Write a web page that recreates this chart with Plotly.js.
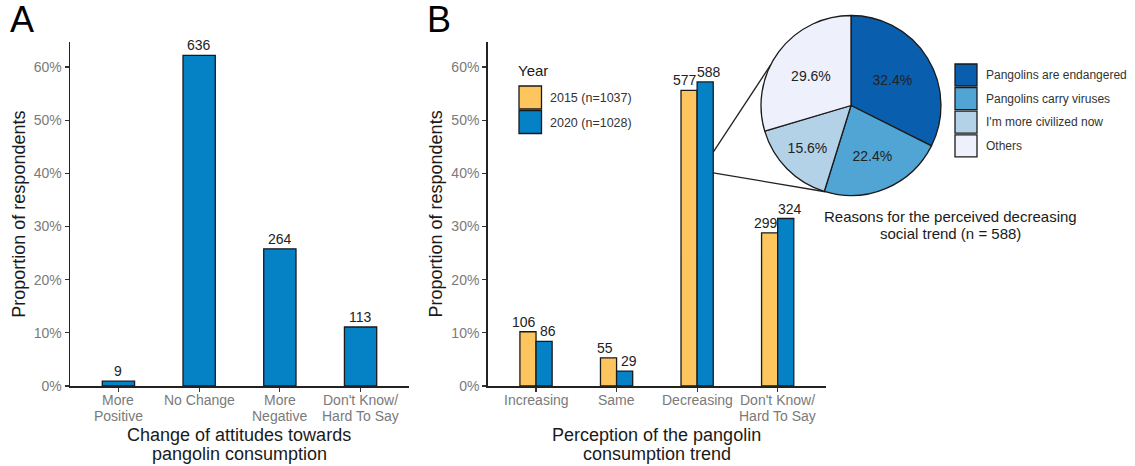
<!DOCTYPE html>
<html><head><meta charset="utf-8">
<script src="https://cdn.plot.ly/plotly-3.0.1.min.js"></script>
<style>html,body{margin:0;padding:0;background:#fff}#chart{width:1135px;height:466px}</style>
</head><body><div id="chart"></div>
<script>
// ---- data ----
const attitudeCategories = ['More<br>Positive', 'No Change', 'More<br>Negative', "Don't Know/<br>Hard To Say"];
const attitudeCounts = [9, 636, 264, 113];
const attitudePct = [0.9, 62.2, 25.8, 11.1];

const trendCategories = ['Increasing', 'Same', 'Decreasing', "Don't Know/<br>Hard To Say"];
const trend2015Counts = [106, 55, 577, 299];
const trend2015Pct = [10.2, 5.3, 55.6, 28.8];
const trend2020Counts = [86, 29, 588, 324];
const trend2020Pct = [8.4, 2.8, 57.2, 31.5];
const yearLabels = ['2015 (n=1037)', '2020 (n=1028)'];

const reasonLabels = ['Pangolins are endangered', 'Pangolins carry viruses', "I'm more civilized now", 'Others'];
const reasonPct = [32.4, 22.4, 15.6, 29.6];

const yTickVals = [0, 10, 20, 30, 40, 50, 60];
const yTickText = ['0%', '10%', '20%', '30%', '40%', '50%', '60%'];

// ---- styles ----
const W = 1135, H = 466;
const FONT = 'Liberation Sans, Arial, sans-serif';
const yearColors = ['#FCC55D', '#0581C6'];
const reasonColors = ['#0A5EAE', '#50A5D5', '#B3D2E7', '#EEF0FC'];
const outline = '#1a1a1a';
const tickGray = '#7a7a7a';
const titleCol = '#1a1a1a';

const px = v => v / W;          // pixel -> paper x
const py = v => 1 - v / H;      // pixel -> paper y

const yDom = [py(386), py(42)];
const xDomA = [px(70), px(409)];
const xDomB = [px(487.7), px(826)];
const xRange = [-0.6, 3.6];
const yRange = [0, 64.7];

const traces = [
  {type: 'bar', x: attitudeCategories, y: attitudePct, xaxis: 'x', yaxis: 'y',
   marker: {color: yearColors[1], line: {color: outline, width: 1.3}}, hoverinfo: 'none'},
  {type: 'bar', x: trendCategories, y: trend2015Pct, xaxis: 'x2', yaxis: 'y2', name: yearLabels[0],
   marker: {color: yearColors[0], line: {color: outline, width: 1.3}}, hoverinfo: 'none'},
  {type: 'bar', x: trendCategories, y: trend2020Pct, xaxis: 'x2', yaxis: 'y2', name: yearLabels[1],
   marker: {color: yearColors[1], line: {color: outline, width: 1.3}}, hoverinfo: 'none'},
  {type: 'pie', values: reasonPct, labels: reasonLabels, sort: false, direction: 'clockwise', rotation: 0,
   text: reasonPct.map(v => v.toFixed(1) + '%'), textinfo: 'text', textposition: 'inside',
   insidetextorientation: 'horizontal',
   textfont: {family: FONT, size: 14, color: '#222'},
   marker: {colors: reasonColors, line: {color: outline, width: 1.3}},
   domain: {x: [px(761), px(941)], y: [py(195.5), py(15.5)]}, hoverinfo: 'none'}
];

const axisCommon = {
  showline: true, linecolor: '#222', linewidth: 1.5, ticks: 'outside', ticklen: 4,
  tickwidth: 1.2, tickcolor: '#333', showgrid: false, zeroline: false,
  tickfont: {family: FONT, size: 14, color: tickGray}, fixedrange: true
};

const annotations = [];
const shapes = [];

// x tick labels (one annotation per text line, for ggplot-like tight line spacing)
function addTickLabels(cats, xref) {
  cats.forEach(c => {
    c.split('<br>').forEach((line, k) => annotations.push({
      xref: xref, yref: 'paper', x: c, y: py(400 + 16 * k), text: line, showarrow: false,
      xanchor: 'center', yanchor: 'middle', font: {family: FONT, size: 14, color: tickGray}
    }));
  });
}
addTickLabels(attitudeCategories, 'x');
addTickLabels(trendCategories, 'x2');

// bar labels A
attitudeCategories.forEach((c, i) => annotations.push({
  xref: 'x', yref: 'y', x: c, y: attitudePct[i], text: String(attitudeCounts[i]),
  showarrow: false, yanchor: 'bottom', font: {family: FONT, size: 14, color: '#222'}
}));
// bar labels B
trendCategories.forEach((c, i) => {
  annotations.push({xref: 'x2', yref: 'y2', x: c, y: trend2015Pct[i], text: String(trend2015Counts[i]),
    xshift: -12, showarrow: false, yanchor: 'bottom', font: {family: FONT, size: 14, color: '#222'}});
  annotations.push({xref: 'x2', yref: 'y2', x: c, y: trend2020Pct[i], text: String(trend2020Counts[i]),
    xshift: 12, showarrow: false, yanchor: 'bottom', font: {family: FONT, size: 14, color: '#222'}});
});

// axis titles
const titleFont = {family: FONT, size: 18, color: titleCol};
annotations.push(
  {xref: 'paper', yref: 'paper', x: px(18.7), y: (yDom[0] + yDom[1]) / 2, text: 'Proportion of respondents',
   textangle: -90, showarrow: false, xanchor: 'center', yanchor: 'middle', font: titleFont},
  {xref: 'paper', yref: 'paper', x: px(435.5), y: (yDom[0] + yDom[1]) / 2, text: 'Proportion of respondents',
   textangle: -90, showarrow: false, xanchor: 'center', yanchor: 'middle', font: titleFont},
  {xref: 'paper', yref: 'paper', x: (xDomA[0] + xDomA[1]) / 2, y: py(435), text: 'Change of attitudes towards',
   showarrow: false, xanchor: 'center', yanchor: 'middle', font: titleFont},
  {xref: 'paper', yref: 'paper', x: (xDomA[0] + xDomA[1]) / 2, y: py(454), text: 'pangolin consumption',
   showarrow: false, xanchor: 'center', yanchor: 'middle', font: titleFont},
  {xref: 'paper', yref: 'paper', x: (xDomB[0] + xDomB[1]) / 2, y: py(435), text: 'Perception of the pangolin',
   showarrow: false, xanchor: 'center', yanchor: 'middle', font: titleFont},
  {xref: 'paper', yref: 'paper', x: (xDomB[0] + xDomB[1]) / 2, y: py(454), text: 'consumption trend',
   showarrow: false, xanchor: 'center', yanchor: 'middle', font: titleFont}
);

// panel letters
annotations.push(
  {xref: 'paper', yref: 'paper', x: px(8), y: py(42), text: 'A', showarrow: false, xanchor: 'left', yanchor: 'bottom',
   font: {family: FONT, size: 36, color: '#000'}},
  {xref: 'paper', yref: 'paper', x: px(425), y: py(42), text: 'B', showarrow: false, xanchor: 'left', yanchor: 'bottom',
   font: {family: FONT, size: 36, color: '#000'}}
);

// Year legend
annotations.push({xref: 'paper', yref: 'paper', x: px(516), y: py(70.5), text: 'Year', showarrow: false,
  xanchor: 'left', yanchor: 'middle', font: {family: FONT, size: 15, color: titleCol}});
yearLabels.forEach((lab, i) => {
  const top = 86 + i * 24.5;
  shapes.push({type: 'rect', xref: 'paper', yref: 'paper', x0: px(519), x1: px(541.5), y0: py(top + 23), y1: py(top),
    fillcolor: yearColors[i], line: {color: outline, width: 1.3}});
  annotations.push({xref: 'paper', yref: 'paper', x: px(548), y: py(top + 12), text: lab, showarrow: false,
    xanchor: 'left', yanchor: 'middle', font: {family: FONT, size: 12.5, color: '#333'}});
});

// Pie legend
reasonLabels.forEach((lab, i) => {
  const top = 64 + i * 23.6;
  shapes.push({type: 'rect', xref: 'paper', yref: 'paper', x0: px(955), x1: px(977), y0: py(top + 22), y1: py(top),
    fillcolor: reasonColors[i], line: {color: outline, width: 1.3}});
  annotations.push({xref: 'paper', yref: 'paper', x: px(984), y: py(top + 11), text: lab, showarrow: false,
    xanchor: 'left', yanchor: 'middle', font: {family: FONT, size: 12, color: '#333'}});
});

// Pie caption
annotations.push(
  {xref: 'paper', yref: 'paper', x: px(950), y: py(216.7), text: 'Reasons for the perceived decreasing',
   showarrow: false, xanchor: 'center', yanchor: 'middle', font: {family: FONT, size: 15, color: titleCol}},
  {xref: 'paper', yref: 'paper', x: px(950), y: py(233.3), text: 'social trend (n = 588)',
   showarrow: false, xanchor: 'center', yanchor: 'middle', font: {family: FONT, size: 15, color: titleCol}}
);

// connector lines from the 2020 "Decreasing" bar to the pie
const barRightIdx = 2 + 0.2; // right edge of the 2020 bar in the Decreasing group
const connectY = [44.0, 40.1];
const pieCx = 851, pieCy = 105.5, pieR = 90;
const connectAng = [152.9, 253.4];
const bx = xDomB[0] + (barRightIdx - xRange[0]) / (xRange[1] - xRange[0]) * (xDomB[1] - xDomB[0]);
connectY.forEach((yv, i) => {
  const by = yDom[0] + (yv - yRange[0]) / (yRange[1] - yRange[0]) * (yDom[1] - yDom[0]);
  const a = connectAng[i] * Math.PI / 180;
  shapes.push({type: 'line', xref: 'paper', yref: 'paper', x0: bx, y0: by,
    x1: px(pieCx + pieR * Math.cos(a)), y1: py(pieCy - pieR * Math.sin(a)),
    line: {color: '#222', width: 1.3}, layer: 'below'});
});

const layout = {
  width: W, height: H, margin: {l: 0, r: 0, t: 0, b: 0}, paper_bgcolor: '#fff', plot_bgcolor: 'rgba(0,0,0,0)',
  showlegend: false, bargap: 0.6, bargroupgap: 0, barmode: 'group',
  font: {family: FONT},
  xaxis: Object.assign({}, axisCommon, {domain: xDomA, range: xRange, type: 'category', anchor: 'y', showticklabels: false}),
  yaxis: Object.assign({}, axisCommon, {domain: yDom, range: yRange, tickvals: yTickVals, ticktext: yTickText, anchor: 'x'}),
  xaxis2: Object.assign({}, axisCommon, {domain: xDomB, range: xRange, type: 'category', anchor: 'y2', showticklabels: false}),
  yaxis2: Object.assign({}, axisCommon, {domain: yDom, range: yRange, tickvals: yTickVals, ticktext: yTickText, anchor: 'x2'}),
  annotations: annotations, shapes: shapes
};

Plotly.newPlot('chart', traces, layout, {staticPlot: true, displayModeBar: false});
</script>
</body></html>
